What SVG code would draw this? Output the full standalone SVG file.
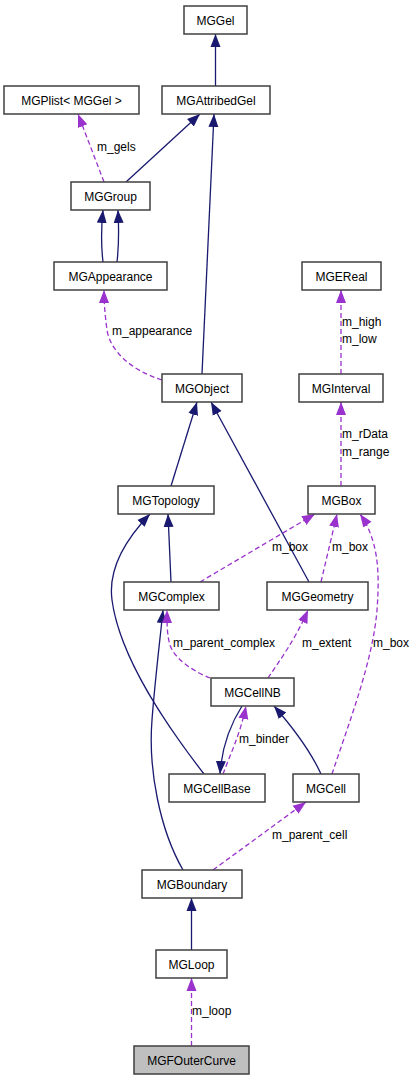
<svg xmlns="http://www.w3.org/2000/svg" width="419" height="1080" viewBox="0 0 419 1080">
<defs>
<style>
.n rect{fill:#fff;stroke:#404040;stroke-width:1.5}
.n.cur rect{fill:#bfbfbf}
.n text{font-family:"Liberation Sans",Arial,sans-serif;font-size:12px;text-anchor:middle;fill:#000}
.inh{fill:none;stroke:#191970;stroke-width:1.3;marker-end:url(#ab)}
.use{fill:none;stroke:#9a32cd;stroke-width:1.3;stroke-dasharray:5,3;marker-end:url(#ap)}
.lbl{font-family:"Liberation Sans",Arial,sans-serif;font-size:12px;fill:#000}
</style>
<marker id="ab" markerUnits="userSpaceOnUse" markerWidth="14" markerHeight="12" refX="13" refY="5.5" orient="auto"><path d="M0,0.5 L13,5.5 L0,10.5 z" fill="#191970"/></marker>
<marker id="ap" markerUnits="userSpaceOnUse" markerWidth="14" markerHeight="12" refX="13" refY="5.5" orient="auto"><path d="M0,0.5 L13,5.5 L0,10.5 z" fill="#9a32cd"/></marker>
</defs>
<rect width="419" height="1080" fill="#fff"/>
<g id="edges">
<path class="inh" d="M215.5,86 L215.5,34"/>
<path class="inh" d="M126,182 L200,114"/>
<path class="inh" d="M202,374 L214,114"/>
<path class="use" d="M104,182 L78,114"/>
<path class="inh" d="M103,262 C101,245 101,230 103,210"/>
<path class="inh" d="M117,262 C119,245 119,230 118,210"/>
<path class="use" d="M162,380 C130,370 110,350 107,330 C105,315 104,303 104,290"/>
<path class="use" d="M341,374 L341,290"/>
<path class="use" d="M341,486 L341,402"/>
<path class="inh" d="M171,486 L197,402"/>
<path class="inh" d="M309,582 L211,402"/>
<path class="inh" d="M171,582 L168,514"/>
<path class="inh" d="M204,774 C170,730 120,660 112,600 C108,570 125,540 150,514"/>
<path class="inh" d="M183,870 C160,830 148,770 152,720 C155,680 160,640 163,610"/>
<path class="use" d="M210,678 C195,672 175,660 170,645 C167,635 167,625 167,610"/>
<path class="use" d="M268,678 C280,660 295,640 308,610"/>
<path class="use" d="M200,582 L315,514"/>
<path class="use" d="M321,582 L337,514"/>
<path class="use" d="M332,774 C350,720 373,660 377,610 C380,570 378,540 360,514"/>
<path class="inh" d="M242,706 C230,725 222,745 220,774"/>
<path class="use" d="M223,774 C230,755 240,735 246,706"/>
<path class="inh" d="M321,774 C310,750 295,730 274,706"/>
<path class="use" d="M213,870 L306,802"/>
<path class="inh" d="M191.5,950 L191.5,898"/>
<path class="use" d="M191.5,1046 L191.5,978"/>
<text class="lbl" x="97" y="151">m_gels</text>
<text class="lbl" x="112" y="335">m_appearance</text>
<text class="lbl" x="342" y="326">m_high</text>
<text class="lbl" x="342" y="343">m_low</text>
<text class="lbl" x="342" y="438">m_rData</text>
<text class="lbl" x="342" y="456">m_range</text>
<text class="lbl" x="272" y="551">m_box</text>
<text class="lbl" x="332" y="551">m_box</text>
<text class="lbl" x="173" y="647">m_parent_complex</text>
<text class="lbl" x="302" y="647">m_extent</text>
<text class="lbl" x="373" y="647">m_box</text>
<text class="lbl" x="239" y="743">m_binder</text>
<text class="lbl" x="272" y="839">m_parent_cell</text>
<text class="lbl" x="192" y="1015">m_loop</text>
</g>
<g id="MGGel" class="n"><rect x="184" y="6" width="63" height="28"/><text x="215.5" y="24.5">MGGel</text></g>
<g id="MGAttribedGel" class="n"><rect x="162" y="86" width="108" height="28"/><text x="216" y="104.5">MGAttribedGel</text></g>
<g id="MGPlist" class="n"><rect x="4" y="86" width="135" height="28"/><text x="71.5" y="104.5">MGPlist&lt; MGGel &gt;</text></g>
<g id="MGGroup" class="n"><rect x="71" y="182" width="79" height="28"/><text x="110.5" y="200.5">MGGroup</text></g>
<g id="MGAppearance" class="n"><rect x="54" y="262" width="113" height="28"/><text x="110.5" y="280.5">MGAppearance</text></g>
<g id="MGObject" class="n"><rect x="162" y="374" width="80" height="28"/><text x="202" y="392.5">MGObject</text></g>
<g id="MGEReal" class="n"><rect x="302" y="262" width="79" height="28"/><text x="341.5" y="280.5">MGEReal</text></g>
<g id="MGInterval" class="n"><rect x="299" y="374" width="84" height="28"/><text x="341" y="392.5">MGInterval</text></g>
<g id="MGTopology" class="n"><rect x="118" y="486" width="96" height="28"/><text x="166" y="504.5">MGTopology</text></g>
<g id="MGBox" class="n"><rect x="308" y="486" width="67" height="28"/><text x="341.5" y="504.5">MGBox</text></g>
<g id="MGComplex" class="n"><rect x="124" y="582" width="95" height="28"/><text x="171.5" y="600.5">MGComplex</text></g>
<g id="MGGeometry" class="n"><rect x="267" y="582" width="101" height="28"/><text x="317.5" y="600.5">MGGeometry</text></g>
<g id="MGCellNB" class="n"><rect x="211" y="678" width="83" height="28"/><text x="252.5" y="696.5">MGCellNB</text></g>
<g id="MGCellBase" class="n"><rect x="169" y="774" width="96" height="28"/><text x="217" y="792.5">MGCellBase</text></g>
<g id="MGCell" class="n"><rect x="293" y="774" width="66" height="28"/><text x="326" y="792.5">MGCell</text></g>
<g id="MGBoundary" class="n"><rect x="142" y="870" width="100" height="28"/><text x="192" y="888.5">MGBoundary</text></g>
<g id="MGLoop" class="n"><rect x="156" y="950" width="71" height="28"/><text x="191.5" y="968.5">MGLoop</text></g>
<g id="MGFOuterCurve" class="n cur"><rect x="134" y="1046" width="115" height="28"/><text x="191.5" y="1064.5">MGFOuterCurve</text></g>
</svg>
